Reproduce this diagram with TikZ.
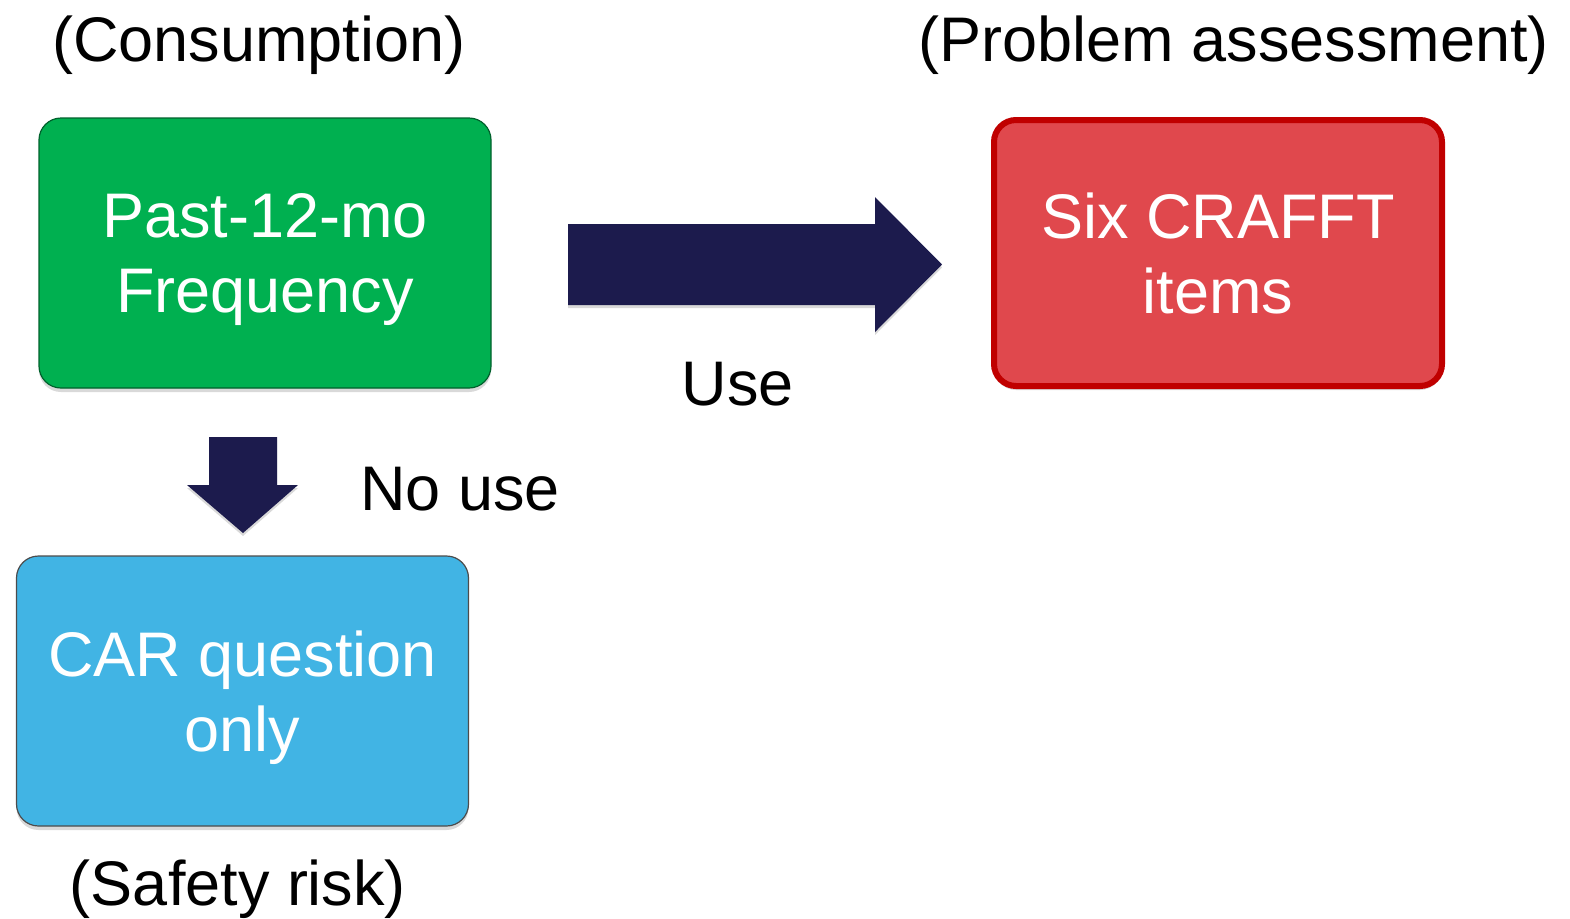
\documentclass[tikz,border=0pt]{standalone}
\usepackage{fontspec}
\setmainfont{Liberation Sans}
\usetikzlibrary{shadows}

\definecolor{ccgreen}{RGB}{0,176,80}
\definecolor{ccred}{RGB}{224,72,77}
\definecolor{ccdarkred}{RGB}{192,0,0}
\definecolor{ccblue}{RGB}{65,180,228}
\definecolor{ccnavy}{RGB}{28,27,77}

\begin{document}
\begin{tikzpicture}[x=0.5pt, y=-0.5pt,
  cardbox/.style={rounded corners=11pt, minimum width=226pt, minimum height=135pt,
    align=center, text=white, text depth=0pt, font=\fontsize{31.5}{37.8}\selectfont,
    drop shadow={shadow xshift=0pt, shadow yshift=-2pt, opacity=0.3}},
  lbltext/.style={anchor=base, font=\fontsize{31.5}{37.8}\selectfont},
  bigarrow/.style={fill=ccnavy,
    drop shadow={shadow xshift=0pt, shadow yshift=-1.5pt, opacity=0.3}}]

  \useasboundingbox (0,0) rectangle (1570,918);

  % Boxes
  \node[cardbox, fill=ccgreen, draw=ccgreen!55!black, line width=0.6pt] (freq) at (265,253) {Past-12-mo\\Frequency};
  \node[cardbox, fill=ccred, draw=ccdarkred, line width=3pt, minimum width=224pt, minimum height=133pt] (crafft) at (1218,253) {Six CRAFFT\\items};
  \node[cardbox, fill=ccblue, draw=gray!60!black, line width=0.6pt] (car) at (242.5,691) {CAR question\\only};

  % Block arrows
  \path[bigarrow] (568,224) -- (875,224) -- (875,197) -- (942,264.5)
    -- (875,332) -- (875,305) -- (568,305) -- cycle;
  \path[bigarrow] (209,437) -- (277,437) -- (277,485) -- (298,485)
    -- (243,533) -- (187,485) -- (209,485) -- cycle;

  % Labels
  \node[lbltext] (consumption) at (259,61) {(Consumption)};
  \node[lbltext] (problem) at (1234,61) {(Problem assessment)};
  \node[lbltext] (use) at (738,405) {Use};
  \node[lbltext] (nouse) at (460,510) {No use};
  \node[lbltext] (safety) at (238,905) {(Safety risk)};

\end{tikzpicture}
\end{document}
